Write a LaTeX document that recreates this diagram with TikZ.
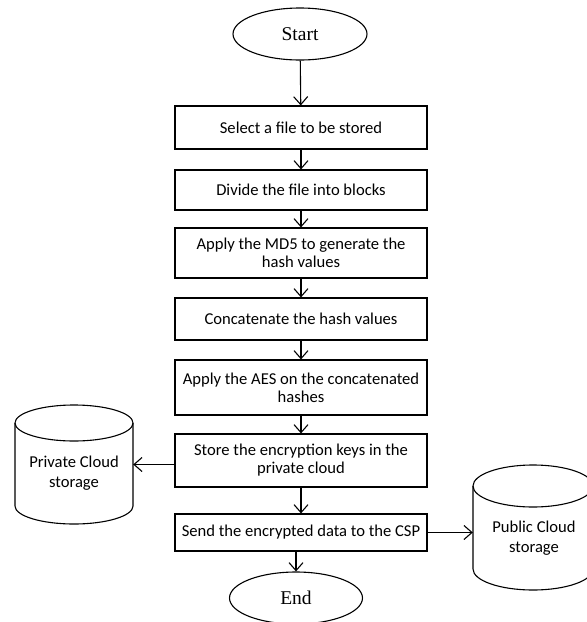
\documentclass[tikz,border=0pt]{standalone}
\usepackage{fontspec}
\setmainfont{Carlito}
\newfontfamily\serifface{Liberation Serif}
\usetikzlibrary{shapes.geometric,arrows.meta}
\tikzset{
  stepbox/.style={draw, line width=1.1pt, minimum width=252, inner sep=0pt, align=center,
    font=\fontsize{16.6}{18}\selectfont},
  term/.style={draw, ellipse, line width=1.1pt, inner sep=0pt, font=\serifface\fontsize{19.5}{22}\selectfont},
  arr/.style={line width=1.1pt, -{Straight Barb[length=8pt,width=14pt,line width=1.1pt]}},
  cyl/.style={line width=1.1pt},
  cyltext/.style={align=center, font=\fontsize{16.6}{20}\selectfont},
}
\begin{document}
\begin{tikzpicture}[x=1pt, y=-1pt]
\useasboundingbox (0,0) rectangle (587,622);
% terminals
\node[term, minimum width=134, minimum height=52] (start) at (300,34) {Start};
\node[term, minimum width=133, minimum height=52] (endn) at (296,598) {End};
% steps
\node[stepbox, minimum height=43] (b1) at (301,127.5) {Select a file to be stored};
\node[stepbox, minimum height=40] (b2) at (301,190) {Divide the file into blocks};
\node[stepbox, minimum height=50] (b3) at (301,253) {Apply the MD5 to generate the\\hash values};
\node[stepbox, minimum height=42] (b4) at (301,319) {Concatenate the hash values};
\node[stepbox, minimum height=55] (b5) at (301,387.5) {Apply the AES on the concatenated\\hashes};
\node[stepbox, minimum height=53] (b6) at (301,460.5) {Store the encryption keys in the\\private cloud};
\node[stepbox, minimum height=37] (b7) at (301,532.5) {Send the encrypted data to the CSP};
% private cloud cylinder
\draw[cyl] (74,423) ellipse [x radius=59pt, y radius=18pt];
\draw[cyl] (15,423) -- (15,506) arc[start angle=180, end angle=360, x radius=59pt, y radius=18pt] -- (133,423);
\node[inner sep=0pt, minimum width=118, minimum height=119] (privcyl) at (74,464.5) {};
\node[cyltext] (privtext) at (74,473) {Private Cloud\\storage};
% public cloud cylinder
\draw[cyl] (533,486) ellipse [x radius=60pt, y radius=21pt];
\draw[cyl] (473,486) -- (473,569) arc[start angle=180, end angle=360, x radius=60pt, y radius=21pt] -- (593,486);
\node[inner sep=0pt, minimum width=120, minimum height=125] (pubcyl) at (533,527.5) {};
\node[cyltext] (pubtext) at (534,538) {Public Cloud\\storage};
% connectors
\draw[arr] (start) -- (b1);
\draw[arr] (b1) -- (b2);
\draw[arr] (b2) -- (b3);
\draw[arr] (b3) -- (b4);
\draw[arr] (b4) -- (b5);
\draw[arr] (b5) -- (b6);
\draw[arr] (b6) -- (b7);
\draw[arr] (b7.south -| endn.north) -- (endn.north);
\draw[arr] (b6.west |- privcyl.center) -- (privcyl.east);
\draw[arr] (b7.east) -- (b7.east -| pubcyl.west);
\end{tikzpicture}
\end{document}
